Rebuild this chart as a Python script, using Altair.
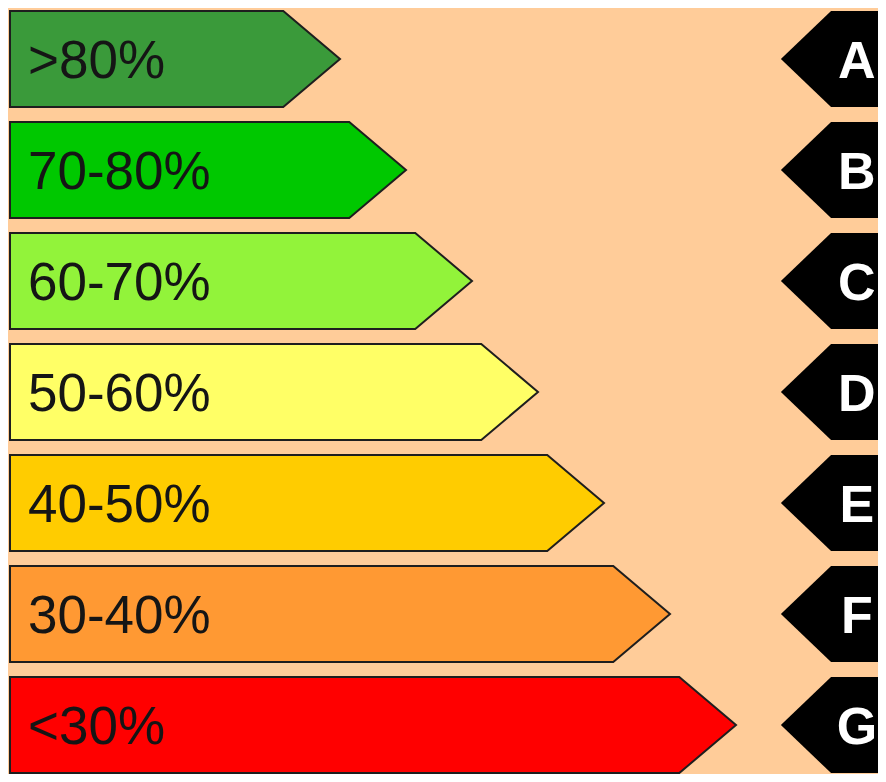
import altair as alt
import pandas as pd

# ---- data ----
labels = [">80%", "70-80%", "60-70%", "50-60%", "40-50%", "30-40%", "<30%"]
letters = ["A", "B", "C", "D", "E", "F", "G"]
bar_lengths = [5, 6, 7, 8, 9, 10, 11]
colors = ["#3a9a3a", "#00c800", "#92f33a", "#ffff66", "#ffcc00", "#ff9933", "#ff0000"]
indicator_tip = 11.68

# ---- geometry styling ----
TIP = 0.86        # depth of coloured arrow point (x units)
BTIP = 0.76       # depth of black arrow point
HALF = 0.433      # half height of a row (y units)
W, H = 870, 766
UX = 66.0         # px per x unit
UY = 111.0        # px per row
X0 = 2.0          # px of x=0
Y0 = 51.0         # px of row 0 centre

rows = []
for i, (lab, L) in enumerate(zip(labels, bar_lengths)):
    rows.append(dict(cat=lab, x=0, y=i - HALF, y2=i + HALF))
    rows.append(dict(cat=lab, x=L - TIP, y=i - HALF, y2=i + HALF))
    rows.append(dict(cat=lab, x=L, y=i, y2=i))
bars = pd.DataFrame(rows)

brows = []
for i, let in enumerate(letters):
    brows.append(dict(cat=let, x=indicator_tip, y=i, y2=i))
    brows.append(dict(cat=let, x=indicator_tip + BTIP, y=i - HALF, y2=i + HALF))
    brows.append(dict(cat=let, x=14.5, y=i - HALF, y2=i + HALF))
blacks = pd.DataFrame(brows)

lab_df = pd.DataFrame({"label": labels, "row": list(range(7)), "x0": [0] * 7})
let_df = pd.DataFrame({"letter": letters, "row": list(range(7)), "xt": [indicator_tip] * 7})

xs = alt.Scale(domain=[-X0 / UX, (W - X0) / UX], nice=False, zero=False)
ys = alt.Scale(domain=[-Y0 / UY, (H - Y0) / UY], nice=False, zero=False, reverse=True)

bar_layer = alt.Chart(bars).mark_area(
    orient="vertical", stroke="#1e1e1e", strokeWidth=2, strokeJoin="miter", clip=True
).encode(
    x=alt.X("x:Q", scale=xs, axis=None),
    y=alt.Y("y:Q", scale=ys, axis=None),
    y2="y2:Q",
    color=alt.Color("cat:N", scale=alt.Scale(domain=labels, range=colors), legend=None),
    detail="cat:N",
)

black_layer = alt.Chart(blacks).mark_area(
    orient="vertical", color="#000000", clip=True
).encode(
    x=alt.X("x:Q", scale=xs, axis=None),
    y=alt.Y("y:Q", scale=ys, axis=None),
    y2="y2:Q",
    detail="cat:N",
)

label_layer = alt.Chart(lab_df).mark_text(
    align="left", baseline="middle", dx=18, dy=3, font="Liberation Sans",
    fontSize=53, color="#151515"
).encode(
    x=alt.X("x0:Q", scale=xs, axis=None),
    y=alt.Y("row:Q", scale=ys, axis=None),
    text="label:N",
)

letter_layer = alt.Chart(let_df).mark_text(
    align="center", baseline="middle", dx=76, dy=3, font="Liberation Sans",
    fontSize=52, fontWeight="bold", color="#ffffff"
).encode(
    x=alt.X("xt:Q", scale=xs, axis=None),
    y=alt.Y("row:Q", scale=ys, axis=None),
    text="letter:N",
)

chart = alt.layer(bar_layer, black_layer, label_layer, letter_layer).properties(
    width=W, height=H, background="#ffcc99", padding=0,
    autosize=alt.AutoSizeParams(type="none"),
).configure_view(stroke=None)

chart.save("out.html", embed_options={"renderer": "svg", "actions": False})
